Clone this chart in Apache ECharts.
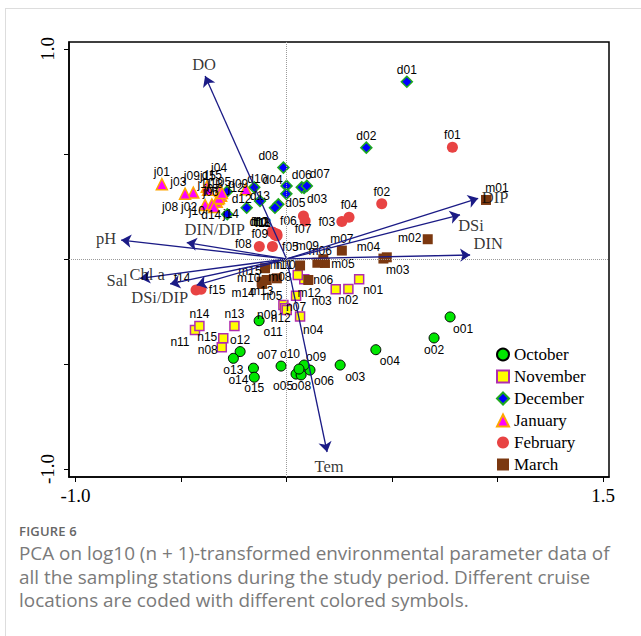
<!DOCTYPE html>
<html>
<head>
<meta charset="utf-8">
<script src="https://cdn.jsdelivr.net/npm/echarts@6/dist/echarts.min.js"></script>
<style>
html,body{margin:0;padding:0;background:#fff;}
#frame{position:absolute;left:5px;top:8px;width:640px;height:640px;border-top:1px solid #ddd;border-left:1px solid #ddd;}
#chart{position:absolute;left:0;top:0;width:641px;height:636px;}
#cap{position:absolute;left:19px;top:522px;font-family:'Open Sans',sans-serif;color:#7a7a7a;}
#cap .fig{font-size:13px;font-weight:600;color:#666;line-height:18px;letter-spacing:0.2px;}
#cap .txt{font-size:18.9px;line-height:23.5px;margin-top:2px;white-space:nowrap;}
</style>
</head>
<body>
<div id="frame"></div>
<div id="chart"></div>
<div id="cap"><div class="fig">FIGURE 6</div><div class="txt">PCA on log10 (n + 1)-transformed environmental parameter data of<br>all the sampling stations during the study period. Different cruise<br>locations are coded with different colored symbols.</div></div>
<script>
// ---------------- DATA ----------------
const months = ['October', 'November', 'December', 'January', 'February', 'March'];
const prefixes = ['o', 'n', 'd', 'j', 'f', 'm'];
const stationIds = ['01','02','03','04','05','06','07','08','09','10','11','12','13','14','15'];

const octX = [0.775, 0.699, 0.254, 0.423, 0.045, 0.111, -0.026, 0.069, 0.083, 0.059, -0.130, -0.220, -0.252, -0.157, -0.153];
const octY = [-0.276, -0.376, -0.505, -0.432, -0.548, -0.529, -0.510, -0.552, -0.505, -0.524, -0.294, -0.441, -0.473, -0.520, -0.563];

const novX = [0.344, 0.293, 0.233, 0.064, -0.015, 0.084, 0.045, -0.307, -0.007, 0.053, -0.434, 0.001, -0.247, -0.413, -0.300];
const novY = [-0.097, -0.143, -0.144, -0.274, -0.219, -0.097, -0.175, -0.420, -0.235, -0.076, -0.338, -0.243, -0.319, -0.319, -0.378];

const decX = [0.570, 0.378, 0.083, 0.000, -0.039, 0.072, 0.096, -0.015, -0.153, -0.001, -0.055, -0.189, -0.126, -0.281, -0.283];
const decY = [0.844, 0.530, 0.338, 0.348, 0.260, 0.341, 0.348, 0.435, 0.341, 0.310, 0.244, 0.244, 0.276, 0.213, 0.320];

const janX = [-0.591, -0.386, -0.442, -0.315, -0.310, -0.331, -0.325, -0.481, -0.378, -0.354, -0.372, -0.193, -0.320, -0.344, -0.306];
const janY = [0.356, 0.257, 0.316, 0.324, 0.301, 0.273, 0.286, 0.311, 0.344, 0.260, 0.329, 0.332, 0.290, 0.248, 0.314];

const febX = [0.786, 0.451, 0.262, 0.296, -0.067, 0.080, 0.088, -0.129, -0.046, -0.059, -0.045, -0.069, -0.055, -0.429, -0.405];
const febY = [0.532, 0.263, 0.178, 0.199, 0.059, 0.205, 0.181, 0.059, 0.119, 0.124, 0.110, 0.129, 0.114, -0.148, -0.144];

const marX = [0.945, 0.669, 0.475, 0.459, 0.182, 0.174, 0.262, -0.046, 0.146, -0.118, 0.064, 0.103, -0.094, -0.116, -0.102];
const marY = [0.281, 0.094, 0.008, 0.002, -0.019, -0.001, 0.040, -0.092, -0.018, -0.108, -0.031, -0.100, -0.100, -0.119, -0.044];

const varNames = ['DO', 'DIP', 'DSi', 'DIN', 'pH', 'DIN/DIP', 'Sal', 'Chl a', 'DSi/DIP', 'Tem'];
const varX = [-0.386, 0.908, 0.822, 0.870, -0.784, -0.473, -0.694, -0.552, -0.426, 0.192];
const varY = [0.871, 0.289, 0.210, 0.019, 0.090, 0.078, -0.092, -0.119, -0.124, -0.919];

const xTicks = [-1, -0.5, 0, 0.5, 1, 1.5];
const xTickLabels = [-1, 1.5];
const yTicks = [-1, -0.5, 0, 0.5, 1];
const yTickLabels = [-1, 1];

// ---------------- STYLE / LAYOUT ----------------
const monthX = [octX, novX, decX, janX, febX, marX];
const monthY = [octY, novY, decY, janY, febY, marY];

const monthStyle = [
  {symbol: 'circle',   size: 10, color: '#00E600', border: '#000000', bw: 1},
  {symbol: 'rect',     size: 9,  color: '#FFFF00', border: '#B02CB0', bw: 1.5},
  {symbol: 'diamond',  size: 11, color: '#0000FF', border: '#1FAA1F', bw: 1.5},
  {symbol: 'triangle', size: 11, color: '#FF00FF', border: '#FFA500', bw: 1.5},
  {symbol: 'circle',   size: 11, color: '#E84343', border: '#E84343', bw: 0},
  {symbol: 'rect',     size: 10, color: '#7B3810', border: '#7B3810', bw: 0}
];

const labelOffsets = {
  o01:[13,12], o02:[0,12], o03:[15,12], o04:[14,11], o05:[-13,12], o06:[14,11], o07:[-14,-11], o08:[0,11],
  o09:[12,-8], o10:[-9,-15], o11:[14,11], o12:[0,-12], o13:[0,12], o14:[-15,12], o15:[0,11],
  n01:[14,11], n02:[0,11], n03:[-14,12], n04:[13,13], n05:[-11,-9], n06:[19,1], n07:[0,11], n08:[-14,3],
  n09:[-18,7], n10:[-12,-10], n11:[-15,12], n12:[-6,8], n13:[0,-12], n14:[0,-12], n15:[-16,-1],
  d01:[0,-12], d02:[0,-12], d03:[13,11], d04:[-14,-6], d05:[17,-1], d06:[0,-12], d07:[13,-12], d08:[-15,-12],
  d09:[-16,-3], d10:[-29,-15], d11:[-16,14], d12:[-5,-9], d13:[0,-5], d14:[-16,1], d15:[-15,-17],
  j01:[0,-12], j02:[-16,2], j03:[-15,-11], j04:[-1,-23], j05:[2,-14], j06:[-6,-10], j07:[-6,-10], j08:[-15,13],
  j09:[-15,-11], j10:[-15,7], j11:[-3,-6], j12:[-10,-1], j13:[-4,-14], j14:[17,7], j15:[-14,-17],
  f01:[0,-12], f02:[0,-12], f03:[-15,0], f04:[0,-12], f05:[18,0], f06:[-15,5], f07:[-2,8], f08:[-16,-3],
  f09:[-17,0], f10:[-15,-11], f11:[-14,-13], f12:[-11,-10], f13:[-12,-12], f14:[-14,-12], f15:[16,1],
  m01:[11,-12], m02:[-18,-1], m03:[11,13], m04:[-15,-12], m05:[18,1], m06:[-3,-8], m07:[0,-12], m08:[3,-1],
  m09:[-10,-17], m10:[-13,-4], m11:[-19,0], m12:[1,13], m13:[-5,11], m14:[-19,9], m15:[-15,3]
};

const varLabelOffsets = {
  'DO':[-1,-12], 'DIP':[17,-1], 'DSi':[11,11], 'DIN':[18,-11], 'pH':[-15,-2],
  'DIN/DIP':[28,-13], 'Sal':[-23,2], 'Chl a':[-23,-9], 'DSi/DIP':[-37,12], 'Tem':[2,14]
};

const serif = "'Liberation Serif','Times New Roman',serif";
const sans = "'Liberation Sans',Arial,sans-serif";
const arrowColor = '#1b1b86';

// ---------------- BUILD ----------------
const series = [];
months.forEach(function (m, i) {
  const st = monthStyle[i];
  const data = stationIds.map(function (id, k) {
    const nm = prefixes[i] + id;
    return {
      name: nm,
      value: [monthX[i][k], monthY[i][k]],
      label: {offset: labelOffsets[nm] || [0, -12]}
    };
  });
  series.push({
    name: m,
    type: 'scatter',
    symbol: st.symbol,
    symbolSize: st.size,
    itemStyle: {color: st.color, borderColor: st.border, borderWidth: st.bw, opacity: 1},
    label: {
      show: true, position: 'inside', formatter: '{b}',
      fontFamily: sans, fontSize: 12, color: '#000',
      textBorderWidth: 0, align: 'center', verticalAlign: 'middle'
    },
    emphasis: {disabled: true},
    data: data,
    z: 3
  });
});

// reference lines + loading arrows
series.push({
  name: 'loadings',
  type: 'scatter',
  symbolSize: 0,
  silent: true,
  data: varNames.map(function (nm, k) {
    return {name: nm, value: [varX[k], varY[k]], label: {offset: varLabelOffsets[nm]}};
  }),
  label: {
    show: true, position: 'inside', formatter: '{b}',
    fontFamily: serif, fontSize: 16.5, color: '#000',
    align: 'center', verticalAlign: 'middle', textBorderWidth: 0
  },
  markLine: {
    silent: true,
    symbol: ['none', 'arrow'],
    symbolSize: 10,
    label: {show: false},
    lineStyle: {color: arrowColor, width: 1.3, type: 'solid'},
    emphasis: {disabled: true},
    data: varNames.map(function (nm, k) {
      return [{coord: [0, 0]}, {coord: [varX[k], varY[k]]}];
    })
  },
  z: 5
});

series.push({
  name: 'zero',
  type: 'scatter',
  data: [],
  silent: true,
  markLine: {
    silent: true,
    symbol: ['none', 'none'],
    label: {show: false},
    lineStyle: {color: '#9a9a9a', width: 1, type: 'dotted'},
    emphasis: {disabled: true},
    data: [{xAxis: 0}, {yAxis: 0}]
  },
  z: 1
});

const chart = echarts.init(document.getElementById('chart'), null, {renderer: 'svg'});
chart.setOption({
  animation: false,
  backgroundColor: 'transparent',
  grid: {
    left: 69, right: 32, top: 42, bottom: 159,
    show: true, borderColor: '#000', borderWidth: 1.5, backgroundColor: 'transparent'
  },
  legend: {
    data: months,
    orient: 'vertical',
    left: 491, top: 341,
    itemWidth: 12, itemHeight: 12, itemGap: 5,
    selectedMode: false,
    textStyle: {fontFamily: serif, fontSize: 17, color: '#000', lineHeight: 17}
  },
  xAxis: {
    type: 'value', min: -1.031, max: 1.528,
    axisLine: {show: true, onZero: false, lineStyle: {color: '#000', width: 1.5}},
    splitLine: {show: false},
    axisTick: {show: true, inside: false, length: 5, customValues: xTicks, lineStyle: {color: '#000', width: 1}},
    axisLabel: {
      customValues: xTickLabels, formatter: function (v) { return v.toFixed(1); },
      fontFamily: serif, fontSize: 19, color: '#000', margin: 9
    }
  },
  yAxis: {
    type: 'value', min: -1.038, max: 1.033,
    axisLine: {show: true, onZero: false, lineStyle: {color: '#000', width: 1.5}},
    splitLine: {show: false},
    axisTick: {show: true, inside: false, length: 5, customValues: yTicks, lineStyle: {color: '#000', width: 1}},
    axisLabel: {
      customValues: yTickLabels, formatter: function (v) { return v.toFixed(1); },
      rotate: 90, fontFamily: serif, fontSize: 19, color: '#000', margin: 12
    }
  },
  series: series
});
</script>
</body>
</html>
